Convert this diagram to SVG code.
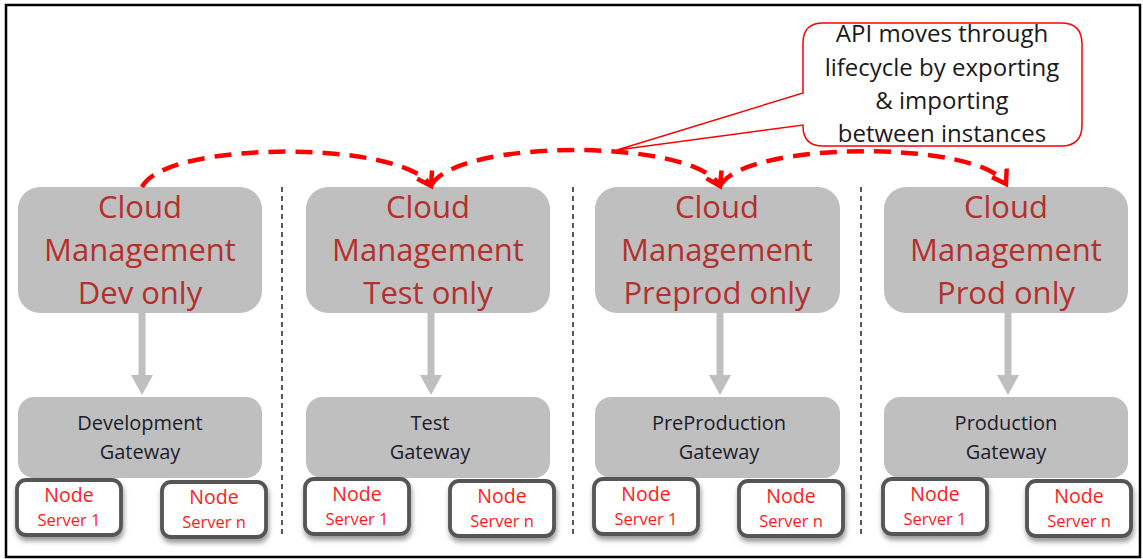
<svg xmlns="http://www.w3.org/2000/svg" width="1143" height="559" viewBox="0 0 1143 559">
<style>
.cloud{fill:#bfbfbf}
.ctext{font-family:"Open Sans","Liberation Sans",sans-serif;font-size:31px;font-weight:500;fill:#b3302d;text-anchor:middle}
.gw{fill:#bfbfbf}
.gtext{font-family:"Open Sans","Liberation Sans",sans-serif;font-size:20px;font-weight:500;fill:#1c1c2a;text-anchor:middle}
.node{fill:#ffffff;stroke:#555555;stroke-width:3.8;filter:url(#sh)}
.n1{font-family:"Open Sans","Liberation Sans",sans-serif;font-size:19.5px;fill:#ff1a1a;text-anchor:middle}
.n2{font-family:"Open Sans","Liberation Sans",sans-serif;font-size:16.5px;fill:#ff1a1a;text-anchor:middle}
.sep{stroke:#000;stroke-width:1.3;stroke-dasharray:5 4;fill:none}
.flow{fill:none;stroke:#ff0000;stroke-width:4.5;stroke-dasharray:17 10;marker-end:url(#ah)}
.down{fill:#bfbfbf}
.ttext{font-family:"Open Sans","Liberation Sans",sans-serif;font-size:24px;font-weight:500;fill:#1a1a1a;text-anchor:middle}
</style>
<defs>
<filter id="sh" x="-20%" y="-20%" width="140%" height="160%">
<feDropShadow dx="1" dy="4" stdDeviation="2.5" flood-color="#000" flood-opacity="0.4"/>
</filter>
<marker id="ah" markerUnits="userSpaceOnUse" markerWidth="24" markerHeight="24" refX="14" refY="10" orient="auto" viewBox="0 0 24 20">
<path d="M1,1.5 L14,10 L1,18.5" fill="none" stroke="#ff0000" stroke-width="4.5" stroke-dasharray="none" stroke-linejoin="miter"/>
</marker>
<symbol id="downArrow" overflow="visible">
<rect x="-3.5" y="0" width="7" height="64" class="down"/>
<path d="M-11,62 L11,62 L0,82 Z" class="down"/>
</symbol>
</defs>

<rect x="6" y="5" width="1134" height="552" fill="#ffffff" stroke="#000" stroke-width="2.5"/>

<g id="separators">
<line x1="282" y1="187" x2="282" y2="538" class="sep"/>
<line x1="573" y1="187" x2="573" y2="538" class="sep"/>
<line x1="861" y1="187" x2="861" y2="538" class="sep"/>
</g>

<g id="col-dev">
<g id="cloud-dev"><rect x="18" y="187" width="244" height="126" rx="22" class="cloud"/>
<text x="140" y="218" class="ctext">Cloud</text><text x="140" y="261" class="ctext">Management</text><text x="140" y="304" class="ctext">Dev only</text></g>
<g id="gw-dev"><rect x="18" y="397" width="244" height="81" rx="16" class="gw"/>
<text x="140" y="430" class="gtext">Development</text><text x="140" y="459" class="gtext">Gateway</text></g>
<g id="dev-node1"><rect x="17" y="480" width="104" height="55" rx="9" class="node"/>
<text x="69" y="502" class="n1">Node</text><text x="69" y="526" class="n2">Server 1</text></g>
<g id="dev-noden"><rect x="162" y="482" width="104" height="55" rx="9" class="node"/>
<text x="214" y="504" class="n1">Node</text><text x="214" y="528" class="n2">Server n</text></g>
</g>

<g id="col-test">
<g id="cloud-test"><rect x="306" y="187" width="244" height="126" rx="22" class="cloud"/>
<text x="428" y="218" class="ctext">Cloud</text><text x="428" y="261" class="ctext">Management</text><text x="428" y="304" class="ctext">Test only</text></g>
<g id="gw-test"><rect x="306" y="397" width="244" height="81" rx="16" class="gw"/>
<text x="430" y="430" class="gtext">Test</text><text x="430" y="459" class="gtext">Gateway</text></g>
<g id="test-node1"><rect x="305" y="479" width="104" height="55" rx="9" class="node"/>
<text x="357" y="501" class="n1">Node</text><text x="357" y="525" class="n2">Server 1</text></g>
<g id="test-noden"><rect x="450" y="481" width="104" height="55" rx="9" class="node"/>
<text x="502" y="503" class="n1">Node</text><text x="502" y="527" class="n2">Server n</text></g>
</g>

<g id="col-preprod">
<g id="cloud-preprod"><rect x="595" y="187" width="245" height="126" rx="22" class="cloud"/>
<text x="717" y="218" class="ctext">Cloud</text><text x="717" y="261" class="ctext">Management</text><text x="717" y="304" class="ctext">Preprod only</text></g>
<g id="gw-preprod"><rect x="595" y="397" width="245" height="81" rx="16" class="gw"/>
<text x="719" y="430" class="gtext">PreProduction</text><text x="719" y="459" class="gtext">Gateway</text></g>
<g id="preprod-node1"><rect x="594" y="479" width="104" height="55" rx="9" class="node"/>
<text x="646" y="501" class="n1">Node</text><text x="646" y="525" class="n2">Server 1</text></g>
<g id="preprod-noden"><rect x="739" y="481" width="104" height="55" rx="9" class="node"/>
<text x="791" y="503" class="n1">Node</text><text x="791" y="527" class="n2">Server n</text></g>
</g>

<g id="col-prod">
<g id="cloud-prod"><rect x="884" y="187" width="244" height="126" rx="22" class="cloud"/>
<text x="1006" y="218" class="ctext">Cloud</text><text x="1006" y="261" class="ctext">Management</text><text x="1006" y="304" class="ctext">Prod only</text></g>
<g id="gw-prod"><rect x="884" y="397" width="244" height="81" rx="16" class="gw"/>
<text x="1006" y="430" class="gtext">Production</text><text x="1006" y="459" class="gtext">Gateway</text></g>
<g id="prod-node1"><rect x="883" y="479" width="104" height="55" rx="9" class="node"/>
<text x="935" y="501" class="n1">Node</text><text x="935" y="525" class="n2">Server 1</text></g>
<g id="prod-noden"><rect x="1027" y="481" width="104" height="55" rx="9" class="node"/>
<text x="1079" y="503" class="n1">Node</text><text x="1079" y="527" class="n2">Server n</text></g>
</g>

<g id="callout">
<path d="M823,23 L1061,23 Q1082,23 1082,44 L1082,125 Q1082,146 1061,146 L823,146 Q803,146 803,126 L803,125 L617,150 L803,93 L803,43 Q803,23 823,23 Z" fill="#ffffff" stroke="#ff0000" stroke-width="1.5" stroke-linejoin="miter"/>
<text x="942" y="42" class="ttext">API moves through</text>
<text x="942" y="76" class="ttext">lifecycle by exporting</text>
<text x="942" y="109" class="ttext">&amp; importing</text>
<text x="942" y="142" class="ttext">between instances</text>
</g>

<g id="connectors">
<use href="#downArrow" x="142" y="313"/>
<use href="#downArrow" x="431" y="313"/>
<use href="#downArrow" x="720" y="313"/>
<use href="#downArrow" x="1008" y="313"/>
<path d="M142,187 C165,140 405,140 431,186" class="flow"/>
<path d="M431,186 C455,138 695,138 720,186" class="flow"/>
<path d="M720,186 C745,140 980,140 1006,184" class="flow"/>
</g>
</svg>
